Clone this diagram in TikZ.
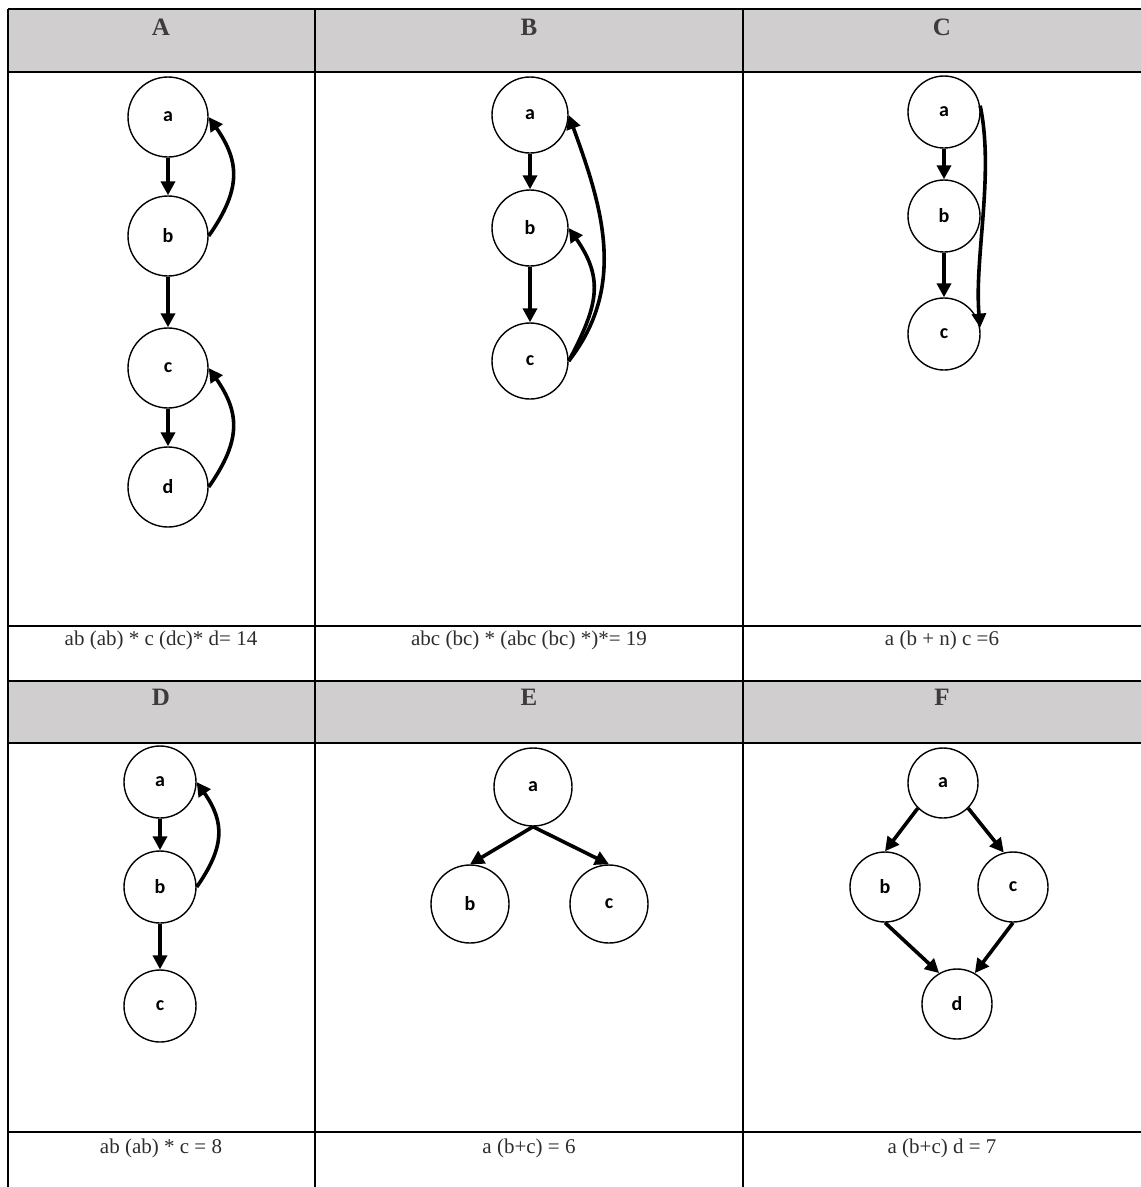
\documentclass[tikz,border=0pt]{standalone}
\usepackage{fontspec}
\setmainfont{Liberation Serif}
\newfontfamily\noeudfont{Carlito}
\definecolor{grisfond}{RGB}{208,206,206}
\definecolor{grisfonce}{RGB}{60,60,60}
\definecolor{gristexte}{RGB}{45,45,45}
\usetikzlibrary{arrows.meta}

\begin{document}
\begin{tikzpicture}[x=1pt,y=1pt,
		etat/.style={circle,draw,line width=1.4pt,inner sep=0pt,font=\noeudfont\bfseries\fontsize{20}{20}\selectfont},
		fleche/.style={-{Triangle[length=14pt,width=14pt]},line width=3.6pt},
		titre/.style={font=\bfseries\fontsize{25}{25}\selectfont,text=grisfonce},
		formule/.style={font=\fontsize{21}{21}\selectfont,text=gristexte},
		trait/.style={line width=2.8pt}]
	\useasboundingbox (0,0) rectangle (1141,-1187);
	% fond et grille du tableau
	\fill[grisfond](8,-9) rectangle (1141,-72);
	\fill[grisfond](8,-681) rectangle (1141,-743);
	\draw[trait](8,-9)--(1141,-9) (8,-72)--(1141,-72);
	\draw[trait](8,-626)--(1141,-626) (8,-681)--(1141,-681);
	\draw[trait](8,-743)--(1141,-743) (8,-1132)--(1141,-1132);
	\draw[trait](8,-9)--(8,-1187) (315,-9)--(315,-1187) (743,-9)--(743,-1187);
	% titres
	\node[titre] (tA) at (161,-27){A};
	\node[titre] (tB) at (529,-27){B};
	\node[titre] (tC) at (942,-27){C};
	\node[titre] (tD) at (161,-697){D};
	\node[titre] (tE) at (529,-697){E};
	\node[titre] (tF) at (942,-697){F};
	% A
	\begin{scope}[every node/.append style={minimum size=80pt}]
		\node[etat] (Aa) at (168,-117){a};
		\node[etat] (Ab) at (168,-236){b};
		\node[etat] (Ac) at (168,-368){c};
		\node[etat] (Ad) at (168,-487){d};
	\end{scope}
	\draw[fleche](Aa)--(Ab);
	\draw[fleche](Ab)--(Ac);
	\draw[fleche](Ac)--(Ad);
	\draw[fleche](Ab.east) to[out=55,in=-55,looseness=1.2] (Aa.east);
	\draw[fleche](Ad.east) to[out=55,in=-55,looseness=1.2] (Ac.east);
	% B
	\begin{scope}[every node/.append style={minimum size=76pt}]
		\node[etat] (Ba) at (530,-115){a};
		\node[etat] (Bb) at (530,-228){b};
		\node[etat] (Bc) at (530,-361){c};
	\end{scope}
	\draw[fleche](Ba)--(Bb);
	\draw[fleche](Bb)--(Bc);
	\draw[fleche](Bc.east) to[out=62,in=-55,looseness=1.2] (Bb.east);
	\draw[fleche](Bc.east) to[out=52,in=-70,looseness=1.0] (Ba.east);
	% C
	\begin{scope}[every node/.append style={minimum size=72pt}]
		\node[etat] (Ca) at (944,-112){a};
		\node[etat] (Cb) at (944,-216){b};
		\node[etat] (Cc) at (944,-334){c};
	\end{scope}
	\draw[fleche](Ca)--(Cb);
	\draw[fleche](Cb)--(Cc);
	\draw[fleche](Ca.10) to[out=-78,in=95,looseness=0.8] (Cc.10);
	% D
	\begin{scope}[every node/.append style={minimum size=72pt}]
		\node[etat] (Da) at (160,-782){a};
		\node[etat] (Db) at (160,-887){b};
		\node[etat] (Dc) at (160,-1006){c};
	\end{scope}
	\draw[fleche](Da)--(Db);
	\draw[fleche](Db)--(Dc);
	\draw[fleche](Db.east) to[out=55,in=-55,looseness=1.2] (Da.east);
	% E
	\begin{scope}[every node/.append style={minimum size=78pt}]
		\node[etat] (Ea) at (533,-787){a};
		\node[etat] (Eb) at (470,-904){b};
		\node[etat] (Ec) at (609,-904){c};
	\end{scope}
	\draw[fleche](Ea.south)--(Eb.north);
	\draw[fleche](Ea.south)--(Ec.north);
	% F
	\begin{scope}[every node/.append style={minimum size=70pt}]
		\node[etat] (Fa) at (943,-783){a};
		\node[etat] (Fb) at (885,-887){b};
		\node[etat] (Fc) at (1013,-887){c};
		\node[etat] (Fd) at (957,-1004){d};
	\end{scope}
	\draw[fleche](Fa.south west)--(Fb.north);
	\draw[fleche](Fa.south east)--(Fc.105);
	\draw[fleche](Fb.south)--(Fd.120);
	\draw[fleche](Fc.south)--(Fd.60);
	% formules
	\node[formule] (fA) at (161,-640){ab (ab) * c (dc)* d= 14};
	\node[formule] (fB) at (529,-640){abc (bc) * (abc (bc) *)*= 19};
	\node[formule] (fC) at (942,-640){a (b + n) c =6};
	\node[formule] (fD) at (161,-1148){ab (ab) * c = 8};
	\node[formule] (fE) at (529,-1148){a (b+c) = 6};
	\node[formule] (fF) at (942,-1148){a (b+c) d = 7};
\end{tikzpicture}
\end{document}
